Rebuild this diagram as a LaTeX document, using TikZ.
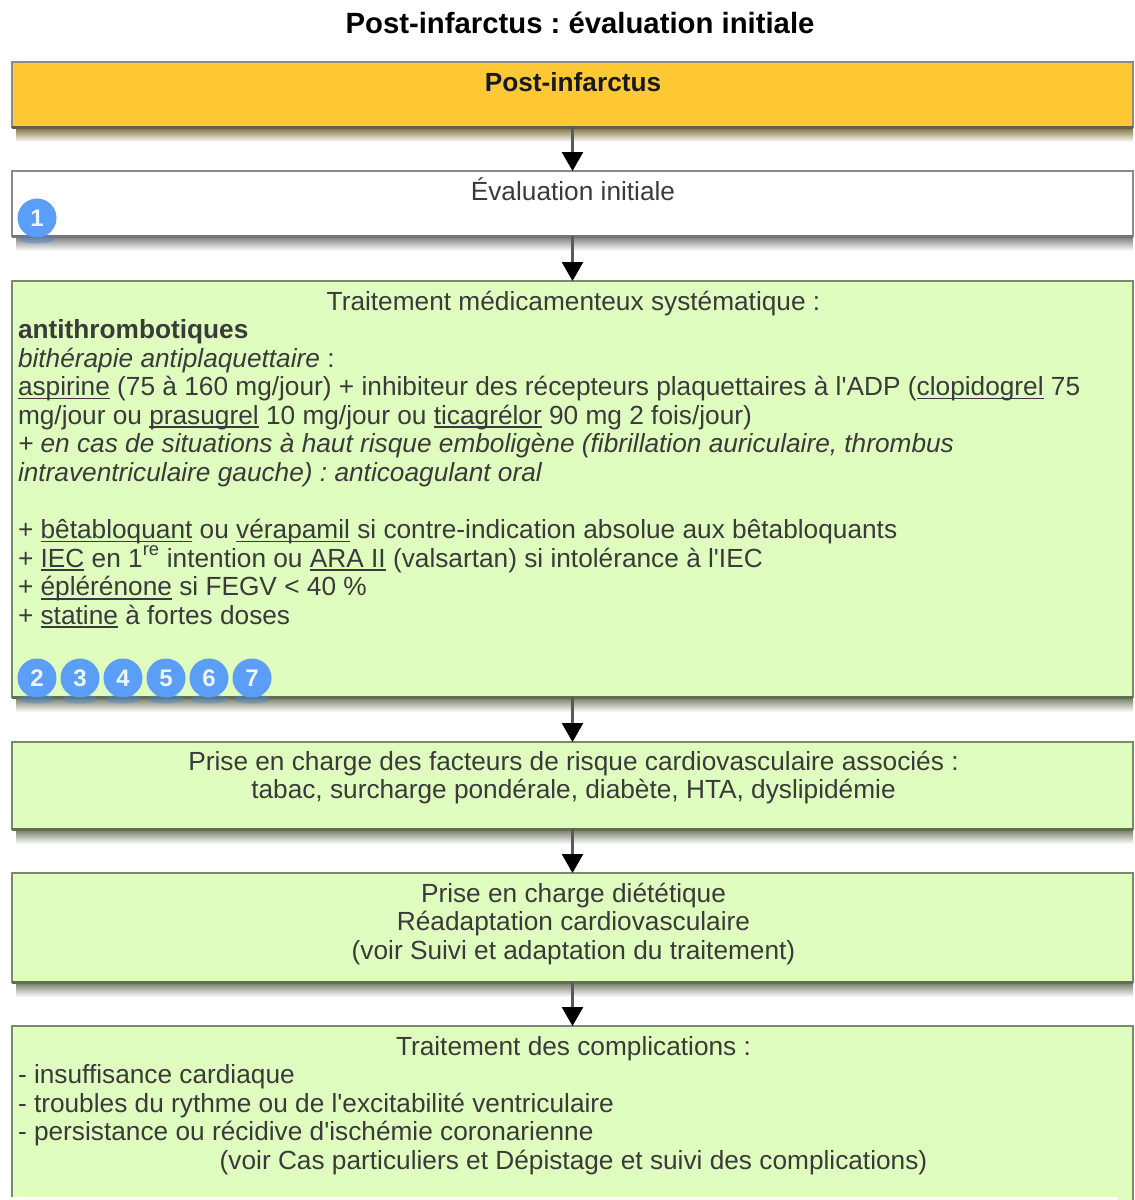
\documentclass[tikz,border=0pt]{standalone}
\usepackage{fontspec}
\setmainfont{Liberation Sans}[Ligatures=TeXOff]
\usetikzlibrary{arrows.meta,shapes.geometric}
\definecolor{gold}{HTML}{FFC936}
\definecolor{pale}{HTML}{DFFDBE}
\definecolor{badge}{HTML}{5A9EF8}
\definecolor{ink}{HTML}{3A3A3A}
\definecolor{edgeg}{HTML}{8A8A8A}
\definecolor{edgeo}{HTML}{7B8A68}
\tikzset{
  x=1pt,y=-1pt,
  flowbox/.style={draw=#1,line width=2.4pt,inner sep=0pt,outer sep=0pt,anchor=north west},
  flowshadow/.style={shade,top color=#1,bottom color=white,draw=none},
  baseedge/.style={draw=#1,line width=3pt},
  txt/.style={inner sep=0pt,outer sep=0pt,text=ink,font=\fontsize{26.25}{28.6}\selectfont},
  leftblock/.style={txt,anchor=north west,align=left},
  midblock/.style={txt,anchor=north,align=center},
  num/.style={circle,fill=badge,minimum size=39pt,inner sep=0pt,text=white!90!badge,font=\bfseries\fontsize{24}{26}\selectfont},
  numshadow/.style={ellipse,fill=badge!85!black,opacity=.45,minimum width=36pt,minimum height=9pt,inner sep=0pt},
  flow/.style={draw=black!65,line width=2.6pt,-{Triangle[length=19pt,width=21pt,fill=black,color=black]}},
}
\newsavebox{\ulbox}
\newcommand{\ul}[1]{\sbox{\ulbox}{#1}\rlap{\rule[-3.6pt]{\wd\ulbox}{1.7pt}}\usebox{\ulbox}}
\frenchspacing
\begin{document}
\begin{tikzpicture}
\useasboundingbox (0,0) rectangle (1135,1200);
\fill[white] (0,0) rectangle (1135,1200);
% soft shadows beneath the boxes
\foreach \a/\c in {127/7A6A30,236/777777,697/6E7860,829/6E7860,982/6E7860}{
  \definecolor{sh}{HTML}{\c}
  \fill[flowshadow=sh] (16,\a) rectangle (1133,\a+15);
}
% boxes
\node[flowbox=edgeg,fill=gold,minimum width=1121pt,minimum height=65pt] (b1) at (12,62) {};
\node[flowbox=edgeg,fill=white,minimum width=1121pt,minimum height=65pt] (b2) at (12,171) {};
\node[flowbox=edgeo,fill=pale,minimum width=1121pt,minimum height=416pt] (b3) at (12,281) {};
\node[flowbox=edgeo,fill=pale,minimum width=1121pt,minimum height=87pt] (b4) at (12,742) {};
\node[flowbox=edgeo,fill=pale,minimum width=1121pt,minimum height=109pt] (b5) at (12,873) {};
\node[flowbox=edgeo,fill=pale,minimum width=1121pt,minimum height=180pt] (b6) at (12,1026) {};
\fill[white] (0,1197) rectangle (1118,1200);
% darker lower edges
\draw[baseedge=edgeg!60!black!90!gold] (b1.south west) -- (b1.south east);
\draw[baseedge=edgeg!85!black] (b2.south west) -- (b2.south east);
\draw[baseedge=edgeo!80!black] (b3.south west) -- (b3.south east);
\draw[baseedge=edgeo!80!black] (b4.south west) -- (b4.south east);
\draw[baseedge=edgeo!80!black] (b5.south west) -- (b5.south east);
% connectors
\draw[flow] (b1.south) -- (b2.north);
\draw[flow] (b2.south) -- (b3.north);
\draw[flow] (b3.south) -- (b4.north);
\draw[flow] (b4.south) -- (b5.north);
\draw[flow] (b5.south) -- (b6.north);
% title
\node[inner sep=0pt,text=black,font=\bfseries\fontsize{29.3}{32}\selectfont] (title) at (580,23) {Post-infarctus : évaluation initiale};
% text
\node[midblock,font=\bfseries\fontsize{26.25}{28.6}\selectfont,text=black!90] (t1) at (573,72) {Post-infarctus};
\node[midblock] (t2) at (573,178) {Évaluation initiale};
\node[midblock] (t3a) at (573.5,291) {Traitement médicamenteux systématique :};
\node[leftblock] (t3b) at (18,319.5) {\textbf{antithrombotiques}\\
\textit{bithérapie antiplaquettaire} :\\
\ul{aspirine} (75 à 160 mg/jour) + inhibiteur des récepteurs plaquettaires à l'ADP (\ul{clopidogrel} 75\\
mg/jour ou \ul{prasugrel} 10 mg/jour ou \ul{ticagrélor} 90 mg 2 fois/jour)\\
\textit{+ en cas de situations à haut risque emboligène (fibrillation auriculaire, thrombus}\\
\textit{intraventriculaire gauche) : anticoagulant oral}\\
\strut\\
+ \ul{bêtabloquant} ou \ul{vérapamil} si contre-indication absolue aux bêtabloquants\\
+ \ul{IEC} en 1\raisebox{3pt}{\textsuperscript{re}} intention ou \ul{ARA II} (valsartan) si intolérance à l'IEC\\
+ \ul{éplérénone} si FEGV < 40 \%\\
+ \ul{statine} à fortes doses};
\node[midblock] (t4) at (573.5,751) {Prise en charge des facteurs de risque cardiovasculaire associés :\\tabac, surcharge pondérale, diabète, HTA, dyslipidémie};
\node[midblock] (t5) at (573.5,883) {Prise en charge diététique\\Réadaptation cardiovasculaire\\(voir Suivi et adaptation du traitement)};
\node[midblock] (t6a) at (573.5,1036) {Traitement des complications :};
\node[leftblock] (t6b) at (18,1064.5) {- insuffisance cardiaque\\- troubles du rythme ou de l'excitabilité ventriculaire\\- persistance ou récidive d'ischémie coronarienne};
\node[midblock] (t6c) at (573.5,1150) {(voir Cas particuliers et Dépistage et suivi des complications)};
% badges
\foreach \n/\x/\y in {1/37/218,2/37/678,3/80/678,4/123/678,5/166/678,6/209/678,7/252/678}{
  \node[numshadow] (s\n) at (\x,\y+21) {};
  \node[num] (n\n) at (\x,\y) {\n};
}
\end{tikzpicture}
\end{document}
